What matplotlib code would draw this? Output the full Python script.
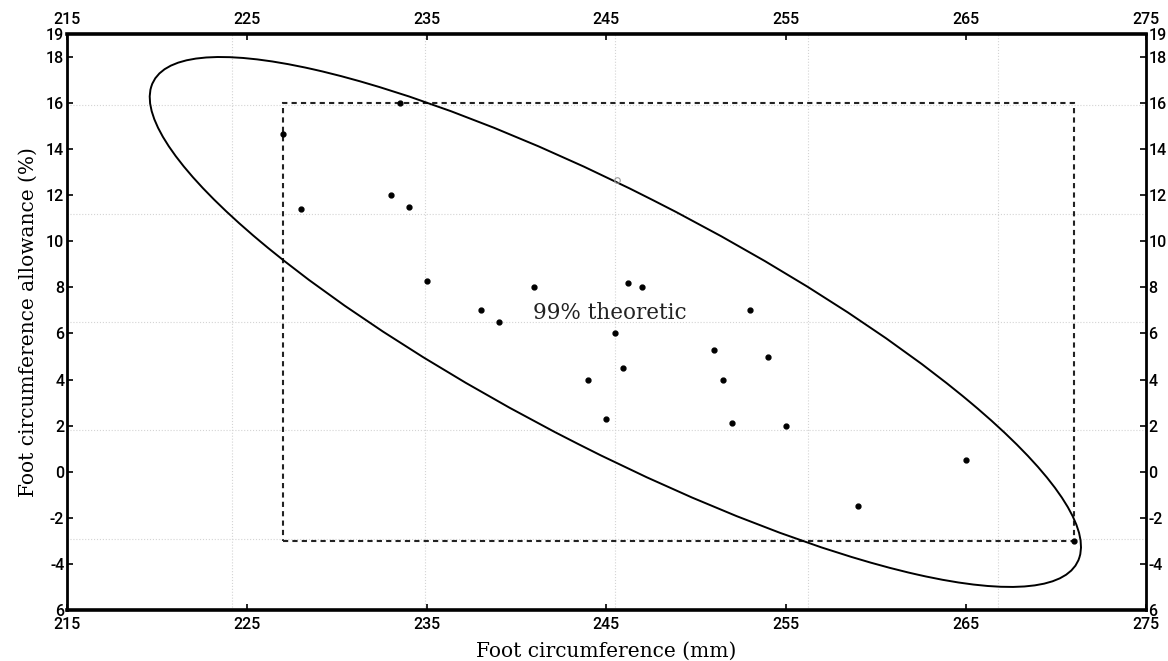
import matplotlib
matplotlib.use("Agg")
import matplotlib.pyplot as plt
import numpy as np
from matplotlib.patches import Ellipse, Rectangle

# measured points (foot circumference mm, allowance %)
foot_circ = [227, 228, 233, 233.5, 234, 235, 238, 239, 241, 244, 245, 245.5,
             245.9, 246.2, 247, 251, 251.5, 252, 253, 254, 255, 259, 265, 271]
allowance = [14.65, 11.4, 12.0, 16.0, 11.5, 8.3, 7.0, 6.5, 8.0, 4.0, 2.3, 6.0,
             4.5, 8.2, 8.0, 5.3, 4.0, 2.1, 7.0, 5.0, 2.0, -1.5, 0.5, -3.0]
faint_x, faint_y = [245.6], [12.66]

# 99% theoretic ellipse: centre, half extents along x / y, correlation
ell_center = (245.5, 6.5)
ell_sx, ell_sy, ell_rho = 25.9, 11.5, -0.848

# bounding box of the data (dashed)
box_x = [227, 271]
box_y = [-3, 16]

xticks = [215, 225, 235, 245, 255, 265, 275]
yticks = [19, 18, 16, 14, 12, 10, 8, 6, 4, 2, 0, -2, -4, -6]
ytick_labels = ['19', '18', '16', '14', '12', '10', '8', '6', '4', '2', '0', '-2', '-4', '6']

# grid of the original plot does not follow the ticks
grid_x = [224.2, 234.9, 245.5, 256.2, 266.8]
grid_y = [15.9, 11.2, 6.5, 1.8, -2.9]

tick_font = ['Liberation Sans Narrow', 'Roboto', 'DejaVu Sans']
label_font = 'DejaVu Serif'

fig = plt.figure(figsize=(11.68, 6.61), dpi=100)
ax = fig.add_axes([0.0574, 0.0772, 0.9235, 0.8714])

for gx in grid_x:
    ax.axvline(gx, color='#d4d4d4', lw=0.8, ls=':', zorder=0)
for gy in grid_y:
    ax.axhline(gy, color='#d4d4d4', lw=0.8, ls=':', zorder=0)

# ellipse from covariance-like matrix
cov = np.array([[ell_sx**2, ell_rho * ell_sx * ell_sy],
                [ell_rho * ell_sx * ell_sy, ell_sy**2]])
vals, vecs = np.linalg.eigh(cov)
order = vals.argsort()[::-1]
vals, vecs = vals[order], vecs[:, order]
angle = np.degrees(np.arctan2(vecs[1, 0], vecs[0, 0]))
ax.add_patch(Ellipse(ell_center, 2 * np.sqrt(vals[0]), 2 * np.sqrt(vals[1]),
                     angle=angle, fill=False, edgecolor='black', lw=1.4, zorder=3))

ax.add_patch(Rectangle((box_x[0], box_y[0]), box_x[1] - box_x[0], box_y[1] - box_y[0],
                       fill=False, edgecolor='#222222', lw=1.5, ls=(0, (2.5, 2)), zorder=2))

ax.plot(foot_circ, allowance, 'o', color='black', ms=3.5, zorder=4)
ax.plot(faint_x, faint_y, 'o', mfc='none', mec='#999999', ms=4, mew=0.8, zorder=4)

ax.text(240.9, 6.65, '99% theoretic', family=label_font, fontsize=15.5,
        ha='left', va='baseline', color='#222222')

ax.set_xlim(215, 275)
ax.set_ylim(-6, 19)
ax.set_xticks(xticks)
ax.set_xticklabels([str(t) for t in xticks])
ax.set_yticks(yticks)
ax.set_yticklabels(ytick_labels)
ax.tick_params(direction='in', length=4, width=1.2,
               top=True, right=True, labeltop=True, labelright=True)
ax.tick_params(axis='x', pad=5)
ax.tick_params(axis='y', pad=2)
for t in ax.xaxis.get_major_ticks() + ax.yaxis.get_major_ticks():
    for lbl in (t.label1, t.label2):
        lbl.set_family(tick_font)
        lbl.set_fontsize(11.5)
        lbl.set_fontweight('medium')
for s in ax.spines.values():
    s.set_linewidth(2)
ax.spines['bottom'].set_linewidth(2.6)
ax.spines['top'].set_linewidth(2.6)

ax.set_xlabel('Foot circumference (mm)', family=label_font, fontsize=14.5, labelpad=7)
ax.set_ylabel('Foot circumference allowance (%)', family=label_font, fontsize=14.5, labelpad=6)

fig.savefig('out.png', dpi=100)
